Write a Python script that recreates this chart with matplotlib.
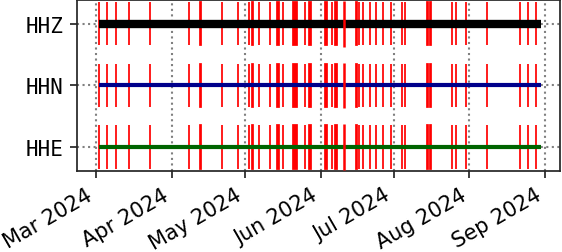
import numpy as np
import pandas as pd
import matplotlib.pyplot as plt
import matplotlib.dates as mdates

# channels, bottom to top
channels = ['HHE', 'HHN', 'HHZ']
line_colors = ['darkgreen', 'darkblue', 'black']
line_widths = [3.0, 3.0, 6.0]

data_start = pd.Timestamp('2024-03-02 05:00')
data_end = pd.Timestamp('2024-08-30 07:00')

# gaps (same for all channels): start time and duration in hours
gap_starts = pd.to_datetime([
    '2024-03-02 02:00', '2024-03-05 10:00', '2024-03-09 05:00', '2024-03-14 12:00',
    '2024-03-23 00:00', '2024-04-08 02:00', '2024-04-12 10:00', '2024-04-21 19:00',
    '2024-04-28 05:00', '2024-05-02 12:00', '2024-05-03 17:00', '2024-05-06 14:00',
    '2024-05-11 05:00', '2024-05-14 02:00', '2024-05-16 10:00', '2024-05-20 14:00',
    '2024-05-25 10:00', '2024-05-27 10:00', '2024-06-02 17:00', '2024-06-05 14:00',
    '2024-06-06 19:00', '2024-06-15 17:00', '2024-06-16 17:00', '2024-06-18 12:00',
    '2024-06-21 02:00', '2024-06-23 19:00', '2024-06-26 17:00', '2024-06-29 17:00',
    '2024-07-04 04:00', '2024-07-05 17:00', '2024-07-14 19:00', '2024-07-15 22:00',
    '2024-07-24 17:00', '2024-07-26 07:00', '2024-07-30 10:00', '2024-08-08 00:00',
    '2024-08-21 12:00', '2024-08-24 19:00', '2024-08-28 10:00',
])
gap_hours = [
    0.3, 0.3, 0.3, 0.3,
    0.3, 0.3, 13, 0.3,
    0.3, 0.3, 13, 0.3,
    0.3, 19, 0.3, 39,
    0.3, 13, 19, 0.3,
    21, 0.3, 0.3, 0.3,
    0.3, 0.3, 0.3, 0.3,
    7, 0.3, 0.3, 9,
    0.3, 0.3, 0.3, 0.3,
    0.3, 0.3, 0.3,
]

# overlap marks (drawn above the lines)
overlap_starts = pd.to_datetime(['2024-06-10 17:00'])

fig, ax = plt.subplots(figsize=(5.62, 2.53), dpi=100)
fig.subplots_adjust(left=0.137, right=0.997, top=0.997, bottom=0.321)

gap_left = mdates.date2num(gap_starts)
gap_width = np.array(gap_hours) / 24.0

for i, ch in enumerate(channels):
    ax.barh(i, gap_width, left=gap_left, height=0.7, color='red',
            edgecolor='red', linewidth=1.25, zorder=2)
    ax.plot([data_start, data_end], [i, i], color=line_colors[i], lw=line_widths[i],
            solid_capstyle='butt', zorder=3)
    ax.vlines(overlap_starts, i - 0.37, i + 0.37, color='red', lw=1.8, zorder=4)

ax.xaxis_date()
ax.set_yticks(range(len(channels)), labels=channels, family='DejaVu Sans Mono', fontsize=15)
ax.set_ylim(-0.385, 2.39)
ax.set_xlim(pd.Timestamp('2024-02-22 05:00'), pd.Timestamp('2024-09-07 05:00'))

ax.xaxis.set_major_locator(mdates.MonthLocator())
ax.xaxis.set_major_formatter(mdates.DateFormatter('%b %Y'))
plt.setp(ax.get_xticklabels(), rotation=30, ha='right', fontsize=15)

ax.grid(True, color='gray', linestyle=':', linewidth=1.5)
ax.set_axisbelow(True)
for s in ax.spines.values():
    s.set_color('#262626')
    s.set_linewidth(1.25)
ax.tick_params(length=5, width=1.25, color='#262626', pad=5)

fig.savefig('out.png')
